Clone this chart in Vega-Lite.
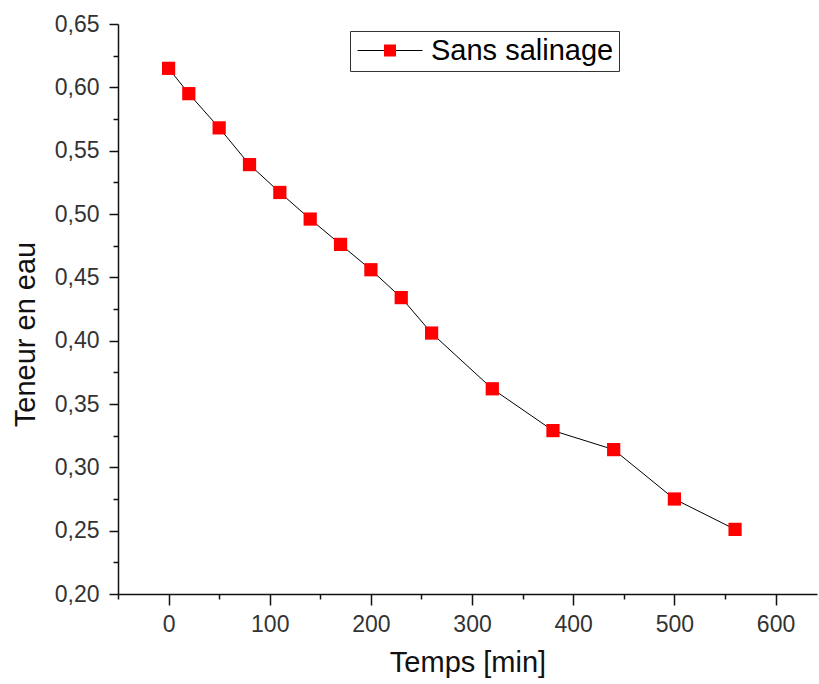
{
  "$schema": "https://vega.github.io/schema/vega-lite/v6.json",
  "width": 699,
  "height": 570,
  "autosize": {"type": "none"},
  "padding": {"left": 118, "top": 24, "right": 2, "bottom": 90},
  "background": "white",
  "config": {
    "view": {"stroke": null},
    "font": "Liberation Sans",
    "locale": {
      "number": {"decimal": ",", "thousands": " ", "grouping": [3], "currency": ["", " €"]}
    },
    "axis": {
      "domainColor": "#111",
      "domainWidth": 1.5,
      "tickColor": "#111",
      "tickWidth": 1.5,
      "grid": false,
      "labelFont": "Liberation Sans",
      "labelFontSize": 23,
      "labelColor": "#333",
      "titleFont": "Liberation Sans",
      "titleFontSize": 29,
      "titleFontWeight": "normal",
      "titleColor": "#111"
    }
  },
  "data": {
    "values": [
      {"t": 0, "w": 0.615},
      {"t": 20, "w": 0.595},
      {"t": 50, "w": 0.568},
      {"t": 80, "w": 0.539},
      {"t": 110, "w": 0.517},
      {"t": 140, "w": 0.496},
      {"t": 170, "w": 0.476},
      {"t": 200, "w": 0.456},
      {"t": 230, "w": 0.434},
      {"t": 260, "w": 0.406},
      {"t": 320, "w": 0.362},
      {"t": 380, "w": 0.329},
      {"t": 440, "w": 0.314},
      {"t": 500, "w": 0.275},
      {"t": 560, "w": 0.251}
    ]
  },
  "layer": [
    {
      "mark": {"type": "line", "strokeWidth": 1, "color": "black"},
      "encoding": {
        "x": {
          "field": "t", "type": "quantitative",
          "scale": {"domain": [-50, 641], "nice": false, "zero": false},
          "axis": {"orient": "bottom", "values": [-50, 50, 150, 250, 350, 450, 550], "labels": false, "domain": false, "tickSize": 5, "title": null}
        },
        "y": {
          "field": "w", "type": "quantitative",
          "scale": {"domain": [0.2, 0.65], "nice": false, "zero": false},
          "axis": {"orient": "left", "values": [0.225, 0.275, 0.325, 0.375, 0.425, 0.475, 0.525, 0.575, 0.625], "labels": false, "domain": false, "tickSize": 5, "title": null}
        },
        "stroke": {
          "datum": "Sans salinage",
          "scale": {"range": ["black"]},
          "legend": {
            "title": null,
            "orient": "none",
            "legendX": 232,
            "legendY": 7,
            "symbolType": "M-1.2,0H5.3",
            "symbolSize": 400,
            "symbolStrokeColor": "black",
            "symbolStrokeWidth": 1.2,
            "labelFont": "Liberation Sans",
            "labelFontSize": 29,
            "labelColor": "black",
            "labelLimit": 500,
            "labelOffset": 47,
            "padding": 5,
            "strokeColor": "#333",
            "fillColor": "white"
          }
        }
      }
    },
    {
      "mark": {"type": "point", "shape": "square", "size": 175, "filled": true, "opacity": 1, "strokeWidth": 0},
      "encoding": {
        "x": {
          "field": "t", "type": "quantitative",
          "axis": {"orient": "bottom", "values": [0, 100, 200, 300, 400, 500, 600], "tickSize": 11, "labelPadding": 8, "title": "Temps [min]", "titlePadding": 12}
        },
        "y": {
          "field": "w", "type": "quantitative",
          "axis": {"orient": "left", "values": [0.2, 0.25, 0.3, 0.35, 0.4, 0.45, 0.5, 0.55, 0.6, 0.65], "format": ".2f", "tickSize": 9, "labelPadding": 10, "title": "Teneur en eau", "titlePadding": 14, "titleY": 310}
        },
        "fill": {
          "datum": "Sans salinage ",
          "scale": {"range": ["#ff0000"]},
          "legend": {
            "title": null,
            "orient": "none",
            "legendX": 232,
            "legendY": 7,
            "symbolType": "M1.45,-0.6H2.65V0.6H1.45Z",
            "symbolSize": 400,
            "symbolFillColor": "#ff0000",
            "symbolStrokeWidth": 0,
            "labelFont": "Liberation Sans",
            "labelFontSize": 29,
            "labelColor": "black",
            "labelOpacity": 0,
            "labelLimit": 500,
            "labelOffset": 47,
            "padding": 5
          }
        }
      }
    }
  ],
  "resolve": {"axis": {"x": "independent", "y": "independent"}}
}
